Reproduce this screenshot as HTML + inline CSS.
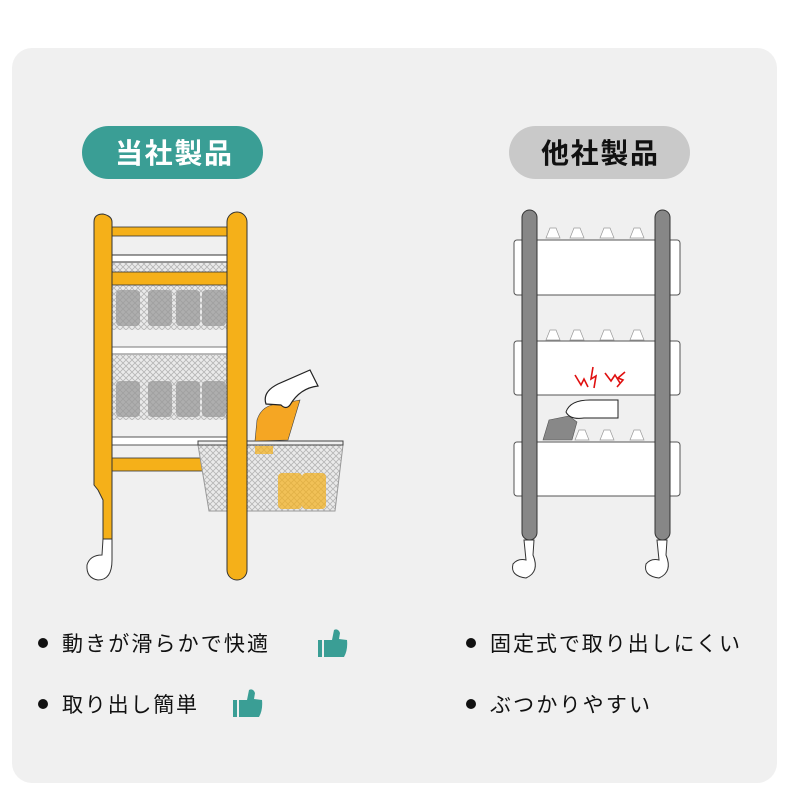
<!DOCTYPE html>
<html><head><meta charset="utf-8"><style>
body{margin:0;width:790px;height:786px;background:#fff;overflow:hidden;font-family:"Liberation Sans","Noto Sans CJK JP",sans-serif}
svg{position:absolute;left:0;top:0}
</style></head><body>
<svg width="790" height="786" viewBox="0 0 790 786">
<defs>
<pattern id="m" width="6" height="6" patternUnits="userSpaceOnUse"><rect width="6" height="6" fill="#eaeaea"/><path d="M0 0L6 6M6 0L0 6" stroke="#b5b5b5" stroke-width="0.8"/></pattern>
</defs>
<rect x="12" y="48" width="765" height="735" rx="20" fill="#f0f0f0"/>
<rect x="82" y="126" width="181" height="53" rx="26.5" fill="#3a9e95"/>
<text x="115" y="163" textLength="117" font-size="28" font-weight="bold" fill="#fff" font-family="Liberation Sans,Noto Sans CJK JP,sans-serif">当社製品</text>
<rect x="509" y="126" width="181" height="53" rx="26.5" fill="#c9c9c9"/>
<text x="541" y="163" textLength="117" font-size="28" font-weight="bold" fill="#111" font-family="Liberation Sans,Noto Sans CJK JP,sans-serif">他社製品</text>

<!-- left cart -->
<rect x="112" y="263" width="115" height="67" fill="url(#m)"/>
<rect x="112" y="355" width="115" height="65" fill="url(#m)"/>
<g fill="#9a9a9a" opacity="0.75">
<rect x="116" y="290" width="24" height="36" rx="4"/><rect x="148" y="290" width="24" height="36" rx="4"/><rect x="176" y="290" width="24" height="36" rx="4"/><rect x="202" y="290" width="24" height="36" rx="4"/>
<rect x="116" y="381" width="24" height="36" rx="4"/><rect x="148" y="381" width="24" height="36" rx="4"/><rect x="176" y="381" width="24" height="36" rx="4"/><rect x="202" y="381" width="24" height="36" rx="4"/>
</g>
<rect x="112" y="255" width="115" height="7" fill="#fff" stroke="#333" stroke-width="1"/>
<rect x="112" y="347" width="115" height="7" fill="#fff" stroke="#777" stroke-width="1"/>
<rect x="112" y="437" width="115" height="8" fill="#fff" stroke="#555" stroke-width="1"/>
<rect x="112" y="227" width="115" height="9" fill="#f5b019" stroke="#333" stroke-width="0.8"/>
<rect x="112" y="272" width="115" height="13" fill="#f5b019" stroke="#333" stroke-width="0.8"/>
<rect x="112" y="458" width="115" height="13" fill="#f5b019" stroke="#333" stroke-width="0.8"/>
<path d="M198 445L343 445L335 511L209 511Z" fill="url(#m)" stroke="#999"/>
<rect x="198" y="441" width="145" height="4" fill="#eee" stroke="#444" stroke-width="1"/>
<g fill="#f5b019" opacity="0.7"><rect x="278" y="473" width="24" height="36" rx="4"/><rect x="302" y="473" width="24" height="36" rx="4"/><rect x="255" y="446" width="18" height="8"/></g>
<path d="M94 222Q94 214 103 214Q112 216 112 222L112 540L103 540L103 500L98 490L94 485Z" fill="#f5b019" stroke="#333" stroke-width="1"/>
<path d="M103 539L112 539L112 560Q112 580 98 580Q86 578 87 565Q90 555 102 555Z" fill="#fff" stroke="#333" stroke-width="1"/>
<rect x="227" y="212" width="20" height="368" rx="10" fill="#f5b019" stroke="#333" stroke-width="1"/>
<path d="M257 420Q262 404 280 404L300 400L288 440L255 441Z" fill="#f5a623" stroke="#444" stroke-width="0.6"/>
<path d="M266 404Q262 392 278 384L310 370L318 386Q300 388 290 405Q286 410 281 405Z" fill="#fff" stroke="#222" stroke-width="1.2"/>

<!-- right cart -->
<g fill="#fff" stroke="#999" stroke-width="0.7">
<path d="M546 238l4-10h6l4 10z M570 238l4-10h6l4 10z M600 238l4-10h6l4 10z M630 238l4-10h6l4 10z"/>
<path d="M546 340l4-10h6l4 10z M570 340l4-10h6l4 10z M600 340l4-10h6l4 10z M630 340l4-10h6l4 10z"/>
<path d="M575 440l4-10h6l4 10z M600 440l4-10h6l4 10z M630 440l4-10h6l4 10z"/>
</g>
<g fill="#fff" stroke="#555" stroke-width="1">
<rect x="514" y="240" width="166" height="55" rx="3"/>
<rect x="514" y="341" width="166" height="54" rx="3"/>
<rect x="514" y="442" width="166" height="54" rx="3"/>
</g>
<path d="M543 440l6-20 20-4 8 6-5 18z" fill="#888" stroke="#555" stroke-width="0.6"/>
<path d="M566 412Q570 400 590 400L618 400L618 418L584 418Q570 420 566 412Z" fill="#fff" stroke="#222" stroke-width="1"/>
<path d="M575 375l6 10 3-6 4 8 M593 367l-2 12 5-3 -2 12 M605 373l6 8 4-6 5 8 M625 372l-7 6 5 2 -6 7" fill="none" stroke="#e01010" stroke-width="1.6"/>
<g fill="#fff" stroke="#333" stroke-width="1">
<path d="M524 540L534 540L533 555Q540 572 526 578Q510 576 513 564Q518 558 526 560Z"/>
<path d="M657 540L667 540L666 555Q673 572 659 578Q643 576 646 564Q651 558 659 560Z"/>
</g>
<rect x="522" y="210" width="15" height="330" rx="7.5" fill="#878787" stroke="#333" stroke-width="1"/>
<rect x="655" y="210" width="15" height="330" rx="7.5" fill="#878787" stroke="#333" stroke-width="1"/>

<!-- bullets -->
<g fill="#111"><circle cx="43" cy="643" r="5"/><circle cx="43" cy="704" r="5"/><circle cx="471" cy="643" r="5"/><circle cx="471" cy="704" r="5"/></g>
<g font-size="21" fill="#111" font-family="Liberation Sans,Noto Sans CJK JP,sans-serif">
<text x="62" y="651" textLength="206">動きが滑らかで快適</text>
<text x="62" y="712" textLength="135">取り出し簡単</text>
<text x="490" y="651" textLength="250">固定式で取り出しにくい</text>
<text x="490" y="712" textLength="160">ぶつかりやすい</text>
</g>
<g fill="#3a9e95">
<rect x="318" y="640" width="4" height="17"/><path d="M324 640L332 640L334 630Q338 628 340 633L339 639L347 640Q348 650 344 657L324 657Z"/>
<rect x="233" y="700" width="4" height="17"/><path d="M239 700L247 700L249 690Q253 688 255 693L254 699L262 700Q263 710 259 717L239 717Z"/>
</g>
</svg>
</body></html>
